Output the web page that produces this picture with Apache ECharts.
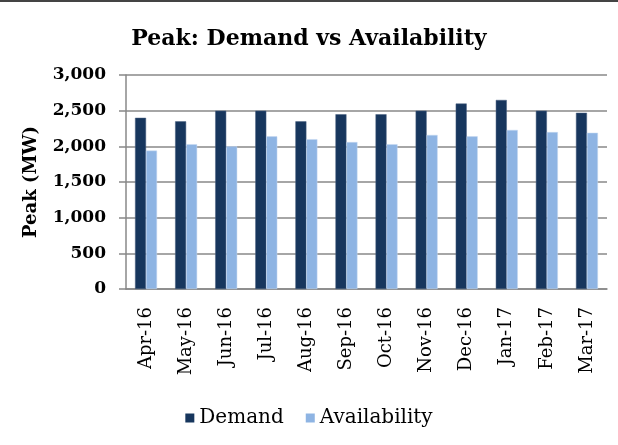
<!DOCTYPE html>
<html>
<head>
<meta charset="utf-8">
<script src="https://cdn.jsdelivr.net/npm/echarts@6/dist/echarts.min.js"></script>
<style>
  html, body { margin: 0; padding: 0; background: #fff; }
  #chart { width: 618px; height: 445px; }
</style>
</head>
<body>
<div id="chart"></div>
<script>
let months = ['Apr-16', 'May-16', 'Jun-16', 'Jul-16', 'Aug-16', 'Sep-16',
    'Oct-16', 'Nov-16', 'Dec-16', 'Jan-17', 'Feb-17', 'Mar-17'];
let demand = [2400, 2350, 2500, 2500, 2350, 2450, 2450, 2500, 2600, 2650, 2500, 2470];
let availability = [1940, 2030, 2000, 2140, 2100, 2060, 2030, 2160, 2140, 2230, 2200, 2190];

let font = 'DejaVu Serif';

let chart = echarts.init(document.getElementById('chart'));
chart.setOption({
    animation: false,
    textStyle: {
        fontFamily: font,
        color: '#000'
    },
    title: {
        text: 'Peak: Demand vs Availability',
        left: 'center',
        top: 23,
        textStyle: {
            fontFamily: font,
            fontSize: 22,
            fontWeight: 'bold',
            color: '#000'
        }
    },
    graphic: [{
        type: 'rect',
        shape: { x: 0, y: 0, width: 618, height: 2 },
        style: { fill: '#444' }
    }],
    legend: {
        top: 403,
        left: 'center',
        itemWidth: 9,
        itemHeight: 9,
        itemGap: 22,
        icon: 'rect',
        itemStyle: { borderWidth: 0 },
        textStyle: {
            fontFamily: font,
            fontSize: 20,
            color: '#000'
        },
        data: ['Demand', 'Availability']
    },
    grid: {
        left: 126,
        right: 11,
        top: 75,
        bottom: 156
    },
    xAxis: {
        type: 'category',
        data: months,
        axisLine: { lineStyle: { color: '#888', width: 1.5 } },
        axisTick: { show: false },
        axisLabel: {
            rotate: 90,
            interval: 0,
            margin: 18,
            fontFamily: font,
            fontSize: 18,
            color: '#000'
        }
    },
    yAxis: {
        type: 'value',
        min: 0,
        max: 3000,
        interval: 500,
        name: 'Peak (MW)',
        nameLocation: 'middle',
        nameGap: 86,
        nameTextStyle: {
            fontFamily: font,
            fontSize: 18,
            fontWeight: 'bold',
            color: '#000'
        },
        axisLine: { show: true, lineStyle: { color: '#888', width: 1.5 } },
        axisTick: { show: true, length: 7, lineStyle: { color: '#888', width: 1.5 } },
        splitLine: { lineStyle: { color: '#888', width: 1.5 } },
        axisLabel: {
            margin: 20,
            fontFamily: font,
            fontSize: 17,
            fontWeight: 'bold',
            color: '#000',
            formatter: function (v) {
                return v.toLocaleString('en-US');
            }
        }
    },
    series: [
        {
            name: 'Demand',
            type: 'bar',
            data: demand,
            barWidth: 11,
            barGap: '0%',
            itemStyle: { color: '#17365D', borderColor: '#4A6080', borderWidth: 0.5 }
        },
        {
            name: 'Availability',
            type: 'bar',
            data: availability,
            barWidth: 11,
            barGap: '0%',
            itemStyle: { color: '#8EB4E3', borderColor: '#C6D9F1', borderWidth: 0.5 }
        }
    ]
});
</script>
</body>
</html>
